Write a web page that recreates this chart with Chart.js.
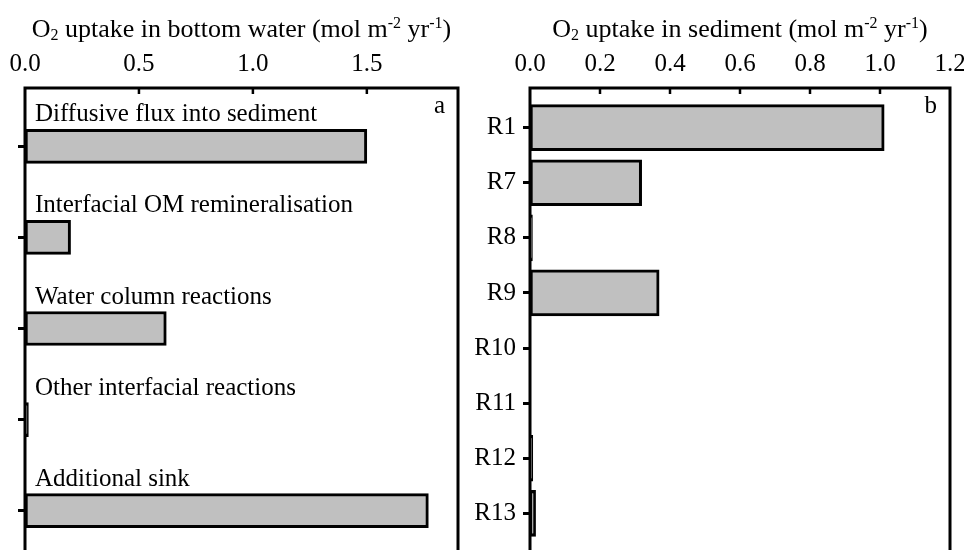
<!DOCTYPE html>
<html>
<head>
<meta charset="utf-8">
<script src="https://cdn.jsdelivr.net/npm/chart.js@4.4.1/dist/chart.umd.min.js"></script>
<style>
  html, body { margin: 0; padding: 0; background: #fff; overflow: hidden; width: 964px; height: 550px; }
  .panel { position: absolute; top: 0; }
  #wrapA { left: 0; }
  #wrapB { left: 460px; }
</style>
</head>
<body>
<div class="panel" id="wrapA"><canvas id="chartA" width="480" height="600"></canvas></div>
<div class="panel" id="wrapB"><canvas id="chartB" width="520" height="600"></canvas></div>
<script>
// panel a: O2 uptake in bottom water
const sinkLabels = ['Diffusive flux into sediment', 'Interfacial OM remineralisation',
                    'Water column reactions', 'Other interfacial reactions', 'Additional sink'];
const sinkValues = [1.50, 0.20, 0.62, 0.015, 1.77];
const sinkTicks = [0, 0.5, 1.0, 1.5];
const sinkTickLabels = ['0.0', '0.5', '1.0', '1.5'];

// panel b: O2 uptake in sediment
const reactionLabels = ['R1', 'R7', 'R8', 'R9', 'R10', 'R11', 'R12', 'R13'];
const reactionValues = [1.012, 0.319, 0.007, 0.369, 0, 0, 0.008, 0.016];
const reactionTicks = [0, 0.2, 0.4, 0.6, 0.8, 1.0, 1.2];
const reactionTickLabels = ['0.0', '0.2', '0.4', '0.6', '0.8', '1.0', '1.2'];

const titleA = [{t: 'O'}, {t: '2', s: 'sub'}, {t: ' uptake in bottom water (mol m'}, {t: '-2', s: 'sup'},
                {t: ' yr'}, {t: '-1', s: 'sup'}, {t: ')'}];
const titleB = [{t: 'O'}, {t: '2', s: 'sub'}, {t: ' uptake in sediment (mol m'}, {t: '-2', s: 'sup'},
                {t: ' yr'}, {t: '-1', s: 'sup'}, {t: ')'}];

const FAMILY = '"Liberation Serif", "Times New Roman", serif';
const tickFont = { family: FAMILY, size: 25 };

function drawRich(ctx, parts, cx, y) {
    const big = '26px ' + FAMILY, small = '16px ' + FAMILY;
    let w = 0;
    parts.forEach(p => { ctx.font = p.s ? small : big; w += ctx.measureText(p.t).width; });
    let x = cx - w / 2;
    ctx.textAlign = 'left';
    parts.forEach(p => {
        ctx.font = p.s ? small : big;
        const dy = p.s === 'sub' ? 3 : (p.s === 'sup' ? -9 : 0);
        ctx.fillText(p.t, x, y + dy);
        x += ctx.measureText(p.t).width;
    });
}

const panelDecor = {
    id: 'panelDecor',
    afterDatasetsDraw(chart, args, opts) {
        const ctx = chart.ctx;
        const a = chart.chartArea;
        const sx = chart.scales.x, sy = chart.scales.y;
        ctx.save();
        ctx.strokeStyle = '#000';
        ctx.lineWidth = 3;
        ctx.strokeRect(a.left, a.top, a.right - a.left, a.bottom - a.top);
        // ticks of the top axis point into the plot
        ctx.lineWidth = 2.5;
        sx.ticks.forEach(t => {
            const px = sx.getPixelForValue(t.value);
            if (px <= a.left + 2 || px >= a.right - 2) return;
            ctx.beginPath();
            ctx.moveTo(px, a.top);
            ctx.lineTo(px, a.top + 6);
            ctx.stroke();
        });
        ctx.fillStyle = '#000';
        ctx.textBaseline = 'alphabetic';
        drawRich(ctx, opts.title, (a.left + a.right) / 2, 37);
        ctx.font = '25px ' + FAMILY;
        ctx.textAlign = 'right';
        ctx.fillText(opts.letter, a.right - 13, 113);
        if (opts.labels) {
            ctx.textAlign = 'left';
            opts.labels.forEach((s, i) => {
                ctx.fillText(s, a.left + 10, sy.getPixelForValue(i) - 25);
            });
        }
        ctx.restore();
    }
};

function makeChart(id, cats, values, tickVals, tickLabels, cfg) {
    return new Chart(document.getElementById(id), {
        type: 'bar',
        data: {
            datasets: [{
                data: values.map((v, i) => ({ x: v, y: i })),
                backgroundColor: '#c0c0c0',
                borderColor: '#000',
                borderWidth: 3,
                borderSkipped: false,
                barThickness: cfg.barThickness
            }]
        },
        options: {
            responsive: false,
            animation: false,
            indexAxis: 'y',
            layout: { padding: { top: 50, left: 0, right: cfg.padRight, bottom: cfg.padBottom } },
            plugins: {
                legend: { display: false },
                tooltip: { enabled: false },
                panelDecor: { title: cfg.title, letter: cfg.letter, labels: cfg.innerLabels }
            },
            scales: {
                x: {
                    type: 'linear',
                    position: 'top',
                    min: 0,
                    max: cfg.xMax,
                    grid: { display: false, drawTicks: false },
                    border: { display: false },
                    ticks: {
                        font: tickFont, color: '#000', padding: 9, maxRotation: 0, autoSkip: false,
                        callback: (v, i) => tickLabels[i]
                    },
                    afterBuildTicks: s => { s.ticks = tickVals.map(v => ({ value: v })); },
                    afterFit: s => { s.height = 38; s.paddingLeft = 0; s.paddingRight = 0; }
                },
                y: {
                    type: 'linear',
                    reverse: true,
                    offset: false,
                    min: cfg.yMin,
                    max: cfg.yMax,
                    grid: {
                        offset: false, drawOnChartArea: false, drawTicks: true, tickLength: 7,
                        tickWidth: 3, tickColor: '#000', color: '#000'
                    },
                    border: { display: false },
                    ticks: {
                        display: cfg.showCats, font: tickFont, color: '#000', padding: 7, autoSkip: false,
                        callback: (v, i) => cats[i]
                    },
                    afterBuildTicks: s => { s.ticks = cats.map((c, i) => ({ value: i })); },
                    afterFit: s => { s.width = cfg.yWidth; s.paddingTop = 0; s.paddingBottom = 0; }
                }
            }
        },
        plugins: [panelDecor]
    });
}

makeChart('chartA', sinkLabels, sinkValues, sinkTicks, sinkTickLabels, {
    xMax: 1.9, yMin: -0.64, yMax: 4.64, yWidth: 25, padRight: 22, padBottom: 31,
    barThickness: 34, showCats: false, innerLabels: sinkLabels, letter: 'a', title: titleA
});

makeChart('chartB', reactionLabels, reactionValues, reactionTicks, reactionTickLabels, {
    xMax: 1.2, yMin: -0.72, yMax: 7.72, yWidth: 70, padRight: 30, padBottom: 47,
    barThickness: 46, showCats: true, innerLabels: null, letter: 'b', title: titleB
});
</script>
</body>
</html>
